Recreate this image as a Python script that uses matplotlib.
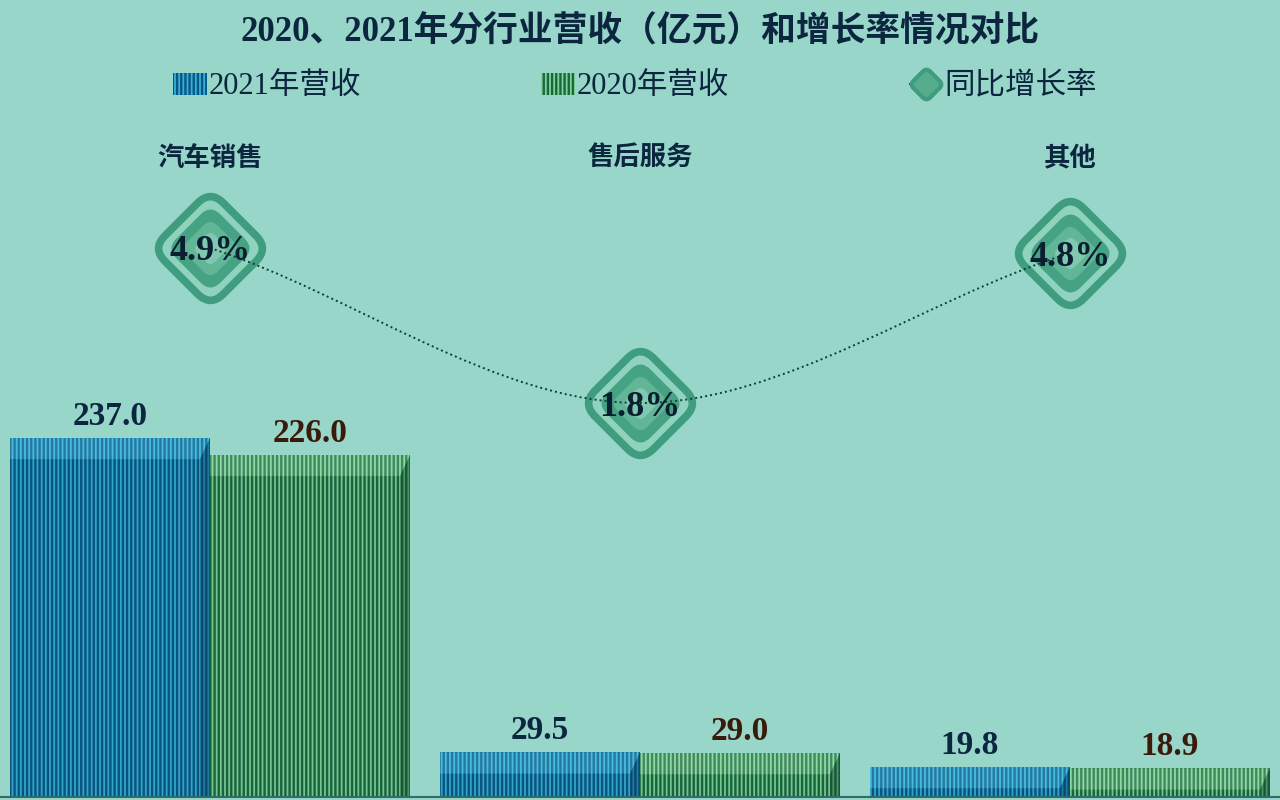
import matplotlib
matplotlib.use('Agg')
import matplotlib.pyplot as plt
import matplotlib.transforms as mtransforms
from matplotlib.markers import MarkerStyle
from matplotlib.lines import Line2D
from matplotlib.patches import Patch, PathPatch, BoxStyle
from matplotlib.path import Path
import numpy as np

# data
categories = ['汽车销售', '售后服务', '其他']
revenue_2021 = [237.0, 29.5, 19.8]
revenue_2020 = [226.0, 29.0, 18.9]
growth_rate = [4.9, 1.8, 4.8]
series_names = ['2021年营收', '2020年营收', '同比增长率']

# colours
bg_color = '#97d6c9'
blue_face = '#34b2da'
blue_hatch = '#0a5682'
green_face = '#7ed498'
green_hatch = '#1c6541'
navy = '#0c2640'
brown = '#3a1a0a'
ring_color = '#3f9c7f'

serif = ['Liberation Serif', 'Noto Sans CJK SC']
plt.rcParams['hatch.linewidth'] = 1.7

# rounded diamond marker
_box = BoxStyle.Round(pad=0, rounding_size=0.22)(-0.5, -0.5, 1, 1, 1.0)
rdiamond = MarkerStyle(mtransforms.Affine2D().rotate_deg(45).transform_path(_box),
                       joinstyle='round')

fig = plt.figure(figsize=(12.8, 8), dpi=100, facecolor=bg_color)
ax = fig.add_axes([0, 3 / 800, 1, 797 / 800])
ax.set_facecolor(bg_color)

x = np.arange(len(categories))
width = 200 / 430

bars21 = ax.bar(x - width / 2, revenue_2021, width, facecolor=blue_face,
                edgecolor=blue_hatch, hatch='||||', linewidth=0)
bars20 = ax.bar(x + width / 2, revenue_2020, width, facecolor=green_face,
                edgecolor=green_hatch, hatch='||||', linewidth=0)

# bevel: light band on top, darker body, dark strip on the right
band = 14
for bars, light, dark in [(bars21, '#7fe0f5', '#083a5a'), (bars20, '#b8f0c4', '#10472b')]:
    for b in bars:
        bx, bw, bh = b.get_x(), b.get_width(), b.get_height()
        ax.add_patch(plt.Polygon([(bx, bh), (bx + bw, bh), (bx + bw * 0.95, bh - band),
                                  (bx, bh - band)], closed=True, facecolor=light,
                                 alpha=0.25, linewidth=0))
        ax.add_patch(plt.Polygon([(bx, bh - band), (bx + bw * 0.95, bh - band),
                                  (bx + bw * 0.95, 0), (bx, 0)], closed=True,
                                 facecolor=dark, alpha=0.1, linewidth=0))
        ax.add_patch(plt.Polygon([(bx + bw, bh), (bx + bw, 0), (bx + bw * 0.95, 0),
                                  (bx + bw * 0.95, bh - band)],
                                 closed=True, facecolor=dark, alpha=0.45, linewidth=0))

for b, v in zip(bars21, revenue_2021):
    ax.text(b.get_x() + b.get_width() / 2, v + 4, f'{v:.1f}', ha='center', va='bottom',
            fontsize=24, fontweight='bold', color=navy, family=serif)
for b, v in zip(bars20, revenue_2020):
    ax.text(b.get_x() + b.get_width() / 2, v + 4, f'{v:.1f}', ha='center', va='bottom',
            fontsize=24, fontweight='bold', color=brown, family=serif)

ax.set_xlim(-210 / 430, 2 + 210 / 430)
ax.set_ylim(0, 237 * 797 / 359)
for s in ['top', 'right', 'left']:
    ax.spines[s].set_visible(False)
ax.spines['bottom'].set_color('#2c6f6a')
ax.spines['bottom'].set_linewidth(1.5)
ax.set_xticks([])
ax.set_yticks([])

# growth-rate line on a twin axis
ax2 = ax.twinx()
ax2.set_ylim(1.8 - 394 / 50, 1.8 - 394 / 50 + 797 / 50)
ax2.axis('off')

# smooth curve through the points (bezier, flat tangent at middle point)
verts = [(x[0], growth_rate[0])]
codes = [Path.MOVETO]
slopes = [(growth_rate[1] - growth_rate[0]) / (x[1] - x[0]) * 0.9, 0.0,
          (growth_rate[2] - growth_rate[1]) / (x[2] - x[1]) * 0.9]
for i in range(len(x) - 1):
    dx = (x[i + 1] - x[i]) / 3
    verts += [(x[i] + dx, growth_rate[i] + slopes[i] * dx),
              (x[i + 1] - dx, growth_rate[i + 1] - slopes[i + 1] * dx),
              (x[i + 1], growth_rate[i + 1])]
    codes += [Path.CURVE4] * 3

ax2.plot(x, growth_rate, linestyle='none', marker=rdiamond, markersize=84,
         markerfacecolor='#8fd3bf', markeredgecolor=ring_color, markeredgewidth=5.5, zorder=4)
ax2.plot(x, growth_rate, linestyle='none', marker=rdiamond, markersize=62,
         markerfacecolor='#45a384', markeredgecolor='#45a384', markeredgewidth=1, zorder=4)
ax2.plot(x, growth_rate, linestyle='none', marker=rdiamond, markersize=42,
         markerfacecolor='#62b698', markeredgecolor='#62b698', markeredgewidth=1, zorder=4)
ax2.plot(x, growth_rate, linestyle='none', marker=rdiamond, markersize=24,
         markerfacecolor='#80c9b0', markeredgecolor='#80c9b0', markeredgewidth=1, zorder=4)
ax2.add_patch(PathPatch(Path(verts, codes), facecolor='none', edgecolor='#123d35',
                        linewidth=1.4, linestyle=(0, (1, 1.6)), zorder=4.5))
for xi, g in zip(x, growth_rate):
    ax2.text(xi, g, f'{g}%', ha='center', va='center_baseline', fontsize=26,
             fontweight='bold', color='#0a1f30', family=serif, zorder=5)

# category names above the markers
trans = mtransforms.blended_transform_factory(ax.transData, fig.transFigure)
for xi, c in zip(x, categories):
    ax.text(xi, 1 - 158 / 800, c, transform=trans, ha='center', va='center',
            fontsize=19, fontweight='bold', color=navy, family=['Noto Sans CJK SC'])

# title
fig.text(0.5, 1 - 33 / 800, '2020、2021年分行业营收（亿元）和增长率情况对比', ha='center',
         va='center', fontsize=25, fontweight='bold', color=navy, family=serif)

# legend
handles = [
    Patch(facecolor=blue_face, edgecolor=blue_hatch, hatch='||||', linewidth=0,
          label=series_names[0]),
    Patch(facecolor=green_face, edgecolor=green_hatch, hatch='||||', linewidth=0,
          label=series_names[1]),
    Line2D([], [], color='#123d35', linestyle=(0, (1, 1.6)), linewidth=1.2,
           marker=rdiamond, markersize=24, markerfacecolor='#55ad8e',
           markeredgecolor=ring_color, markeredgewidth=3, label=series_names[2]),
]
leg = fig.legend(handles=handles, loc='center', bbox_to_anchor=(0.496, 1 - 87 / 800), ncol=3,
                 frameon=False, columnspacing=5.9, handlelength=1.1, handleheight=0.75,
                 handletextpad=0.05, prop={'family': serif, 'size': 22})
for t in leg.get_texts():
    t.set_color(navy)
# dotted line drawn through the diamond handle (on top of the marker)
for line in leg.get_lines():
    line.set_zorder(3)

fig.savefig('out.png', dpi=100, facecolor=bg_color)
